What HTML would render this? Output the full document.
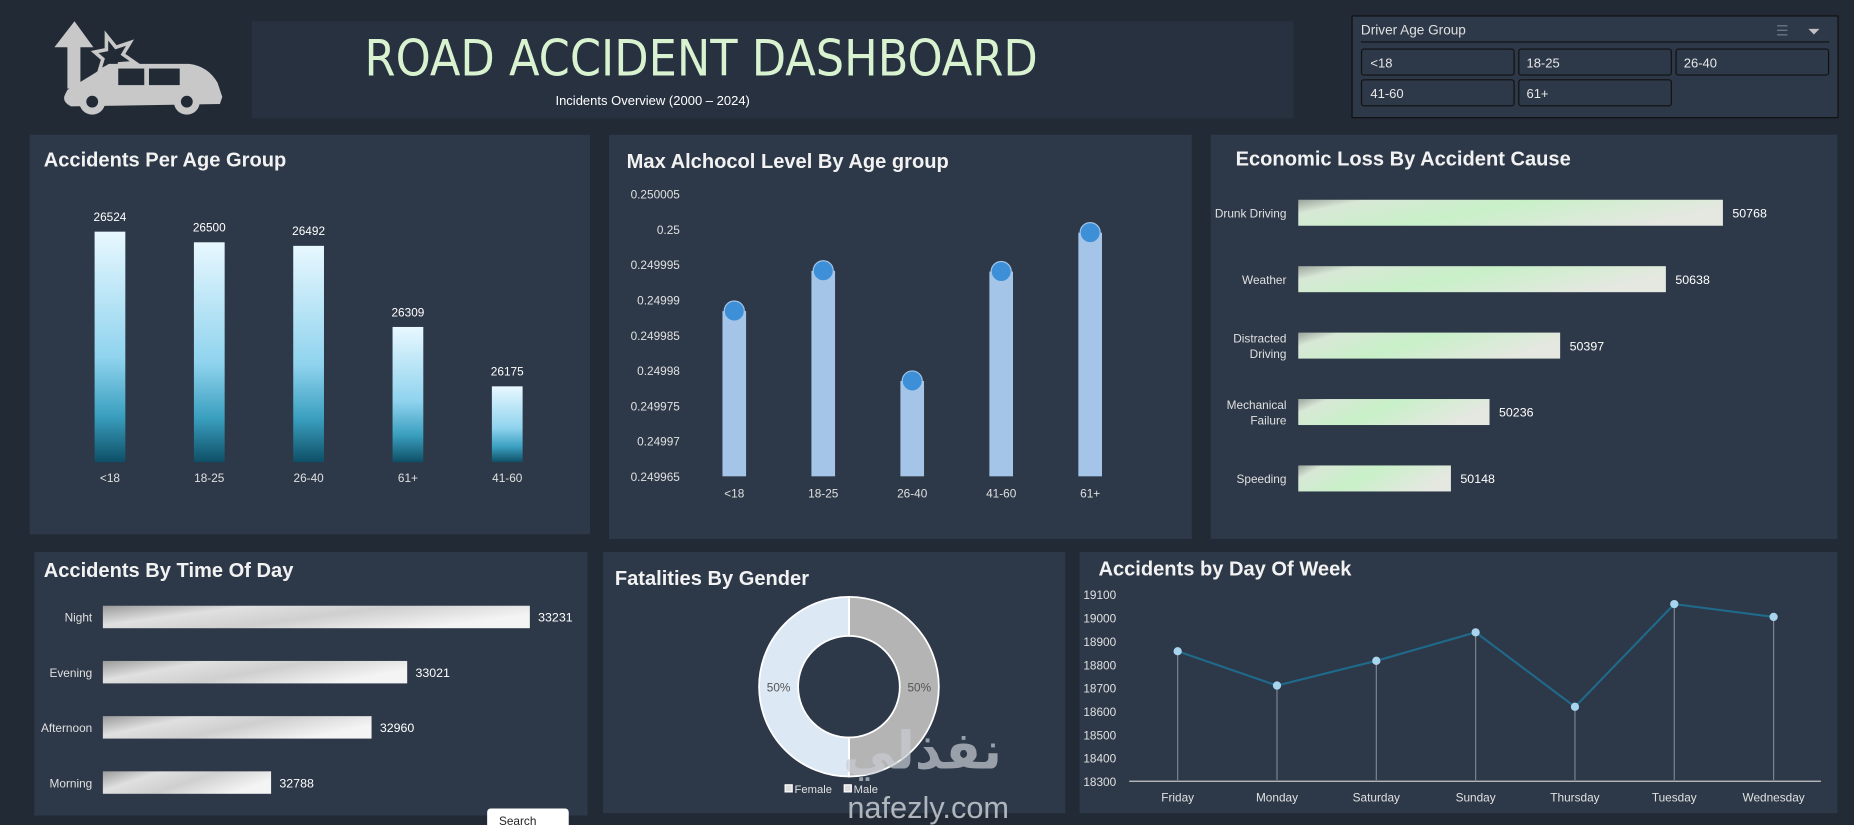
<!DOCTYPE html>
<html><head><meta charset="utf-8"><style>
html,body{margin:0;padding:0;background:#222a35;}
svg{display:block;font-family:"Liberation Sans",sans-serif;}
</style></head><body>
<svg id="s" width="1854" height="825" viewBox="0 0 1568 698" preserveAspectRatio="none">
<defs>
<linearGradient id="g1" x1="0" y1="0" x2="0" y2="1"><stop offset="0" stop-color="#e8f8ff"/><stop offset="0.55" stop-color="#8fd3ee"/><stop offset="0.8" stop-color="#3a9fbf"/><stop offset="1" stop-color="#0e4f66"/></linearGradient>
<linearGradient id="g3" x1="0" y1="0" x2="1" y2="0.3"><stop offset="0" stop-color="#9aa39b"/><stop offset="0.15" stop-color="#d8e8d6"/><stop offset="0.5" stop-color="#c8f0c8"/><stop offset="1" stop-color="#e4e8e0"/></linearGradient>
<linearGradient id="g4" x1="0" y1="0" x2="1" y2="0.4"><stop offset="0" stop-color="#9a9a9a"/><stop offset="0.3" stop-color="#e0e0e0"/><stop offset="0.6" stop-color="#cfcfcf"/><stop offset="1" stop-color="#f4f4f4"/></linearGradient>
</defs>
<rect width="1568" height="698" fill="#222a35"/>
<!-- logo -->
<g fill="#c8c8c8">
<polygon points="63,18 46,40 57,40 57,75 68,75 68,40 79,40"/>
<polygon points="90,30 98,40 110,36 104,46 114,53 101,54 98,64 92,56 84,60 87,50 80,44 90,42" fill="none" stroke="#c8c8c8" stroke-width="3"/>
<path d="M57,76 L80,62 L92,54 L160,54 Q176,56 184,70 L188,82 L186,88 L60,90 Q52,86 55,80 Z"/>
<rect x="100" y="58" width="22" height="14" fill="#222a35"/><rect x="126" y="58" width="26" height="14" fill="#222a35"/>
<circle cx="78" cy="86" r="11"/><circle cx="78" cy="86" r="5" fill="#222a35"/>
<circle cx="158" cy="86" r="11"/><circle cx="158" cy="86" r="5" fill="#222a35"/>
</g>
<rect x="213" y="18" width="881" height="82" fill="#273140"/>
<text x="593" y="64" text-anchor="middle" font-size="42" fill="#d9f2cf" style="font-family:'DejaVu Sans Condensed','Liberation Sans',sans-serif;font-weight:300">ROAD ACCIDENT DASHBOARD</text>
<text x="552" y="89" text-anchor="middle" font-size="11" fill="#ffffff">Incidents Overview (2000 – 2024)</text>
<!-- slicer -->
<g>
<rect x="1143.5" y="13.5" width="411" height="86" fill="#2d3848" stroke="#111" />
<text x="1151" y="29" font-size="11.5" fill="#e0e0e0">Driver Age Group</text>
<text x="1502" y="30" font-size="12" fill="#6c7582">☰</text>
<text x="1529" y="31" font-size="13" fill="#c0c0c0">⏷</text>
<line x1="1151" y1="35.5" x2="1547" y2="35.5" stroke="#111"/>
<g font-size="11" fill="#e8e8e8">
<rect x="1151.5" y="41.5" width="129" height="22" rx="2" fill="#2d3848" stroke="#111"/><text x="1159" y="57">&lt;18</text>
<rect x="1284.5" y="41.5" width="129" height="22" rx="2" fill="#2d3848" stroke="#111"/><text x="1291" y="57">18-25</text>
<rect x="1417.5" y="41.5" width="129" height="22" rx="2" fill="#2d3848" stroke="#111"/><text x="1424" y="57">26-40</text>
<rect x="1151.5" y="67.5" width="129" height="22" rx="2" fill="#2d3848" stroke="#111"/><text x="1159" y="83">41-60</text>
<rect x="1284.5" y="67.5" width="129" height="22" rx="2" fill="#2d3848" stroke="#111"/><text x="1291" y="83">61+</text>
</g></g>
<!-- panels -->
<rect x="25" y="114" width="474" height="338" fill="#2d3848"/>
<rect x="515" y="114" width="493" height="342" fill="#2d3848"/>
<rect x="1024" y="114" width="530" height="342" fill="#2d3848"/>
<rect x="29" y="467" width="468" height="223" fill="#2d3848"/>
<rect x="510" y="467" width="391" height="221" fill="#2d3848"/>
<rect x="913" y="467" width="641" height="221" fill="#2d3848"/>
<g font-weight="bold" fill="#f2f2f2" font-size="17">
<text x="37" y="141">Accidents Per Age  Group</text>
<text x="530" y="142">Max Alchocol Level By Age group</text>
<text x="1045" y="140">Economic Loss By Accident Cause</text>
<text x="37" y="488">Accidents By Time Of Day</text>
<text x="520" y="495">Fatalities By Gender</text>
<text x="929" y="487">Accidents by Day Of Week</text>
</g>
<g id="c1"></g><g id="c2"></g><g id="c3"></g><g id="c4"></g><g id="c5"></g><g id="c6"></g>
<text x="785" y="692" text-anchor="middle" font-size="26" fill="#c8ccd2" opacity="0.85">nafezly.com</text>
<text x="780" y="650" text-anchor="middle" font-size="44" font-weight="bold" fill="#c8ccd2" opacity="0.7" style="font-family:'DejaVu Sans',sans-serif">نفذلي</text>
<rect x="412" y="684" width="69" height="20" rx="3" fill="#ffffff"/>
<text x="422" y="698" font-size="10" fill="#222" >Search</text>
</svg>
<script>
const ageCats=["<18","18-25","26-40","61+","41-60"];
const ageVals=[26524,26500,26492,26309,26175];
const alcCats=["<18","18-25","26-40","41-60","61+"];
const alcVals=[0.2499884,0.2499941,0.2499785,0.249994,0.2499995];
const alcTicks=["0.250005","0.25","0.249995","0.24999","0.249985","0.24998","0.249975","0.24997","0.249965"];
const lossCats=["Drunk Driving","Weather","Distracted|Driving","Mechanical|Failure","Speeding"];
const lossVals=[50768,50638,50397,50236,50148];
const todCats=["Night","Evening","Afternoon","Morning"];
const todVals=[33231,33021,32960,32788];
const genderCats=["Female","Male"];
const genderVals=[50,50];
const dowCats=["Friday","Monday","Saturday","Sunday","Thursday","Tuesday","Wednesday"];
const dowVals=[18857,18710,18816,18938,18619,19059,19004];
const dowTicks=[19100,19000,18900,18800,18700,18600,18500,18400,18300];

const NS="http://www.w3.org/2000/svg";
function mk(p,t,a,txt){const e=document.createElementNS(NS,t);for(const k in a)e.setAttribute(k,a[k]);if(txt!==undefined)e.textContent=txt;p.appendChild(e);return e;}

// chart 1
{const g=document.getElementById('c1');const y=v=>391-(v-26004)*0.375;const x=i=>93+i*84;
ageVals.forEach((v,i)=>{const r=mk(g,'rect',{x:x(i)-13,y:y(v),width:26,height:391-y(v),fill:'url(#g1)'});


const t=mk(g,'text',{x:x(i),y:y(v)-9,'text-anchor':'middle','font-size':10,fill:'#fff'},v);


const c=mk(g,'text',{x:x(i),y:408,'text-anchor':'middle','font-size':10,fill:'#e0e0e0'},ageCats[i]);

});}

// chart 2
{const g=document.getElementById('c2');const y=v=>403-(v-0.249965)/0.000005*29.875;const x=i=>621+i*75.25;
alcTicks.forEach(t=>{const e=mk(g,'text',{x:575,y:y(+t)+4,'text-anchor':'end','font-size':10,fill:'#e0e0e0'},t);

});
alcVals.forEach((v,i)=>{const r=mk(g,'rect',{x:x(i)-10,y:y(v),width:20,height:403-y(v),fill:'#a4c5e8'});


const c=mk(g,'circle',{cx:x(i),cy:y(v),r:8.5,fill:'#3d8fd8',stroke:'#a4c5e8','stroke-width':1});


const t=mk(g,'text',{x:x(i),y:421,'text-anchor':'middle','font-size':10,fill:'#e0e0e0'},alcCats[i]);

});}

// chart 3
{const g=document.getElementById('c3');const w=v=>(v-49800)*0.371;const y=i=>180+i*56.2;
lossVals.forEach((v,i)=>{const r=mk(g,'rect',{x:1098,y:y(i)-11,width:w(v),height:22,fill:'url(#g3)'});


const t=mk(g,'text',{x:1098+w(v)+8,y:y(i)+4,'font-size':10.5,fill:'#fff'},v);


const parts=lossCats[i].split('|');parts.forEach((p,j)=>{const c=mk(g,'text',{x:1088,y:y(i)+4+(j-(parts.length-1)/2)*13,'text-anchor':'end','font-size':10,fill:'#e0e0e0'},p);

});});}

// chart 4
{const g=document.getElementById('c4');const w=v=>(v-32500)*0.494;const y=i=>522+i*46.7;
todVals.forEach((v,i)=>{const r=mk(g,'rect',{x:87,y:y(i)-9.5,width:w(v),height:19,fill:'url(#g4)'});


const t=mk(g,'text',{x:87+w(v)+7,y:y(i)+4,'font-size':10.5,fill:'#fff'},v);


const c=mk(g,'text',{x:78,y:y(i)+4,'text-anchor':'end','font-size':10,fill:'#e0e0e0'},todCats[i]);

});}

// chart 5 donut
{const g=document.getElementById('c5');const cx=718,cy=581,R=76,r=43;const tot=genderVals.reduce((a,b)=>a+b,0);
const cols=['#b4b4b4','#dde8f5'];let a0=-Math.PI/2;
genderVals.forEach((v,i)=>{const a1=a0+v/tot*2*Math.PI;const lg=(a1-a0)>Math.PI?1:0;
const p=(rr,a)=>[cx+rr*Math.cos(a),cy+rr*Math.sin(a)];const [x0,y0]=p(R,a0),[x1,y1]=p(R,a1),[x2,y2]=p(r,a1),[x3,y3]=p(r,a0);
const e=mk(g,'path',{d:`M${x0},${y0}A${R},${R} 0 ${lg} 1 ${x1},${y1}L${x2},${y2}A${r},${r} 0 ${lg} 0 ${x3},${y3}Z`,fill:cols[i],stroke:'#fff','stroke-width':1.5});


const am=(a0+a1)/2;const [lx,ly]=p((R+r)/2,am);
const t=mk(g,'text',{x:lx,y:ly+4,'text-anchor':'middle','font-size':10,fill:'#555'},Math.round(v/tot*100)+'%');


a0=a1;});
genderCats.forEach((c,i)=>{const lx=664+i*50;const s=mk(g,'rect',{x:lx,y:664,width:6,height:6,fill:'#ddd',stroke:'#fff'});


const t=mk(g,'text',{x:lx+8,y:671,'font-size':9.5,fill:'#e0e0e0'},c);

});}

// chart 6
{const g=document.getElementById('c6');const y=v=>661-(v-18300)/100*19.75;const x=i=>996+i*84;
dowTicks.forEach(t=>{const e=mk(g,'text',{x:944,y:y(t)+4,'text-anchor':'end','font-size':10,fill:'#e0e0e0'},t);

});
const ax=mk(g,'line',{x1:955,y1:661,x2:1540,y2:661,stroke:'#c8c8c8','stroke-width':1});


dowVals.forEach((v,i)=>{const l=mk(g,'line',{x1:x(i),y1:y(v),x2:x(i),y2:661,stroke:'#7c8590','stroke-width':1});


const t=mk(g,'text',{x:x(i),y:678,'text-anchor':'middle','font-size':10,fill:'#e0e0e0'},dowCats[i]);

});
const pl=mk(g,'polyline',{points:dowVals.map((v,i)=>x(i)+','+y(v)).join(' '),fill:'none',stroke:'#1f6a8a','stroke-width':1.8});


dowVals.forEach((v,i)=>{const c=mk(g,'circle',{cx:x(i),cy:y(v),r:3.5,fill:'#a9d4ee'});

});}
</script>
</body></html>
